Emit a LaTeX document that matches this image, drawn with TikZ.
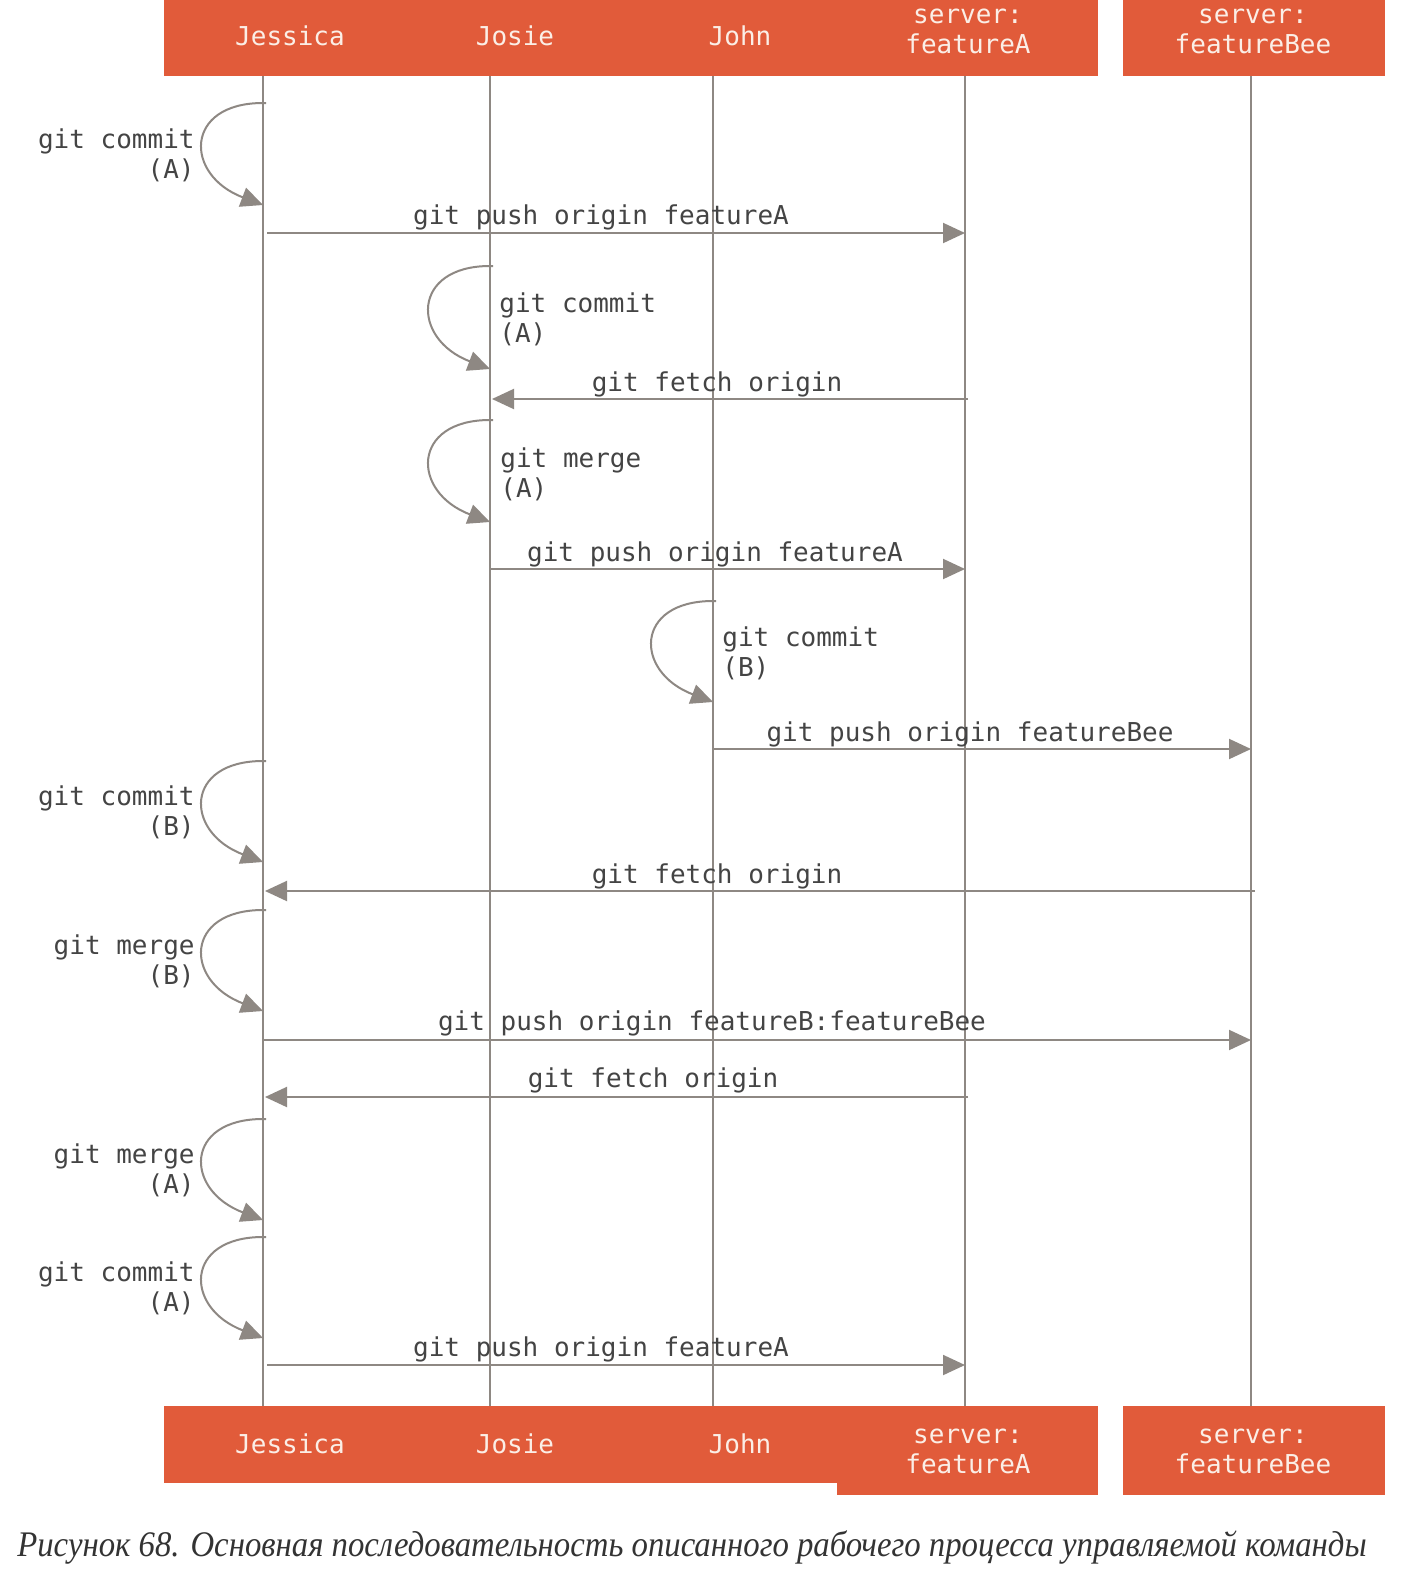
\documentclass[tikz,border=0pt]{standalone}
\usepackage{fontspec}
\setmonofont{DejaVu Sans Mono}
\newfontfamily\capfont[FakeStretch=0.91]{Liberation Serif}
\usetikzlibrary{arrows.meta}
\definecolor{hdr}{HTML}{E15B3A}
\definecolor{ln}{HTML}{8E8883}
\definecolor{txt}{HTML}{444444}
\definecolor{htxt}{HTML}{FBEEE6}
\definecolor{captxt}{HTML}{333333}
\begin{document}
\begin{tikzpicture}[x=0.5pt,y=-0.5pt,
  lifeline/.style={draw=ln,line width=1pt},
  msg/.style={draw=ln,line width=1pt,-{Triangle[length=11pt,width=10pt]}},
  selfloop/.style={draw=ln,line width=1pt,-{Triangle[length=11pt,width=10pt]}},
  lbl/.style={inner sep=0pt,text=txt,font=\ttfamily\fontsize{13}{15}\selectfont},
  hlbl/.style={inner sep=0pt,text=htxt,font=\ttfamily\fontsize{13}{15}\selectfont,align=center}]
\useasboundingbox[fill=white] (0,0) rectangle (1408,1580);
% header boxes
\fill[hdr] (164,0) rectangle (1098,76);
\fill[hdr] (1123,0) rectangle (1385,76);
\fill[hdr] (164,1406) rectangle (1098,1483);
\fill[hdr] (837,1406) rectangle (1098,1495);
\fill[hdr] (1123,1406) rectangle (1385,1495);
% header texts
\node[hlbl,anchor=base] (hJ)  at (290,45) {Jessica};
\node[hlbl,anchor=base] (hJo) at (515,45) {Josie};
\node[hlbl,anchor=base] (hJn) at (740,45) {John};
\node[hlbl,anchor=base] (hFA) at (968,53) {server:\\[0pt]featureA};
\node[hlbl,anchor=base] (hFB) at (1253,53) {server:\\[0pt]featureBee};
\node[hlbl,anchor=base] (fJ)  at (290,1453) {Jessica};
\node[hlbl,anchor=base] (fJo) at (515,1453) {Josie};
\node[hlbl,anchor=base] (fJn) at (740,1453) {John};
\node[hlbl,anchor=base] (fFA) at (968,1473) {server:\\[0pt]featureA};
\node[hlbl,anchor=base] (fFB) at (1253,1473) {server:\\[0pt]featureBee};
% lifeline ends
\coordinate (tJ) at (263,76);  \coordinate (bJ) at (263,1406);
\coordinate (tJo) at (490,76); \coordinate (bJo) at (490,1406);
\coordinate (tJn) at (713,76); \coordinate (bJn) at (713,1406);
\coordinate (tFA) at (965,76); \coordinate (bFA) at (965,1406);
\coordinate (tFB) at (1251,76); \coordinate (bFB) at (1251,1406);
\foreach \n in {J,Jo,Jn,FA,FB} {\draw[lifeline] (t\n) -- (b\n);}
% 1 loop Jessica
\coordinate (l1s) at (266,103); \coordinate (l1e) at (263,205);
\draw[selfloop] (l1s) -- (263,103) .. controls +(-79,0) and +(-79,-30) .. (l1e);
\node[lbl,anchor=base east,align=right] (t1) at (195,178) {git commit\\(A)};
% 2 push
\coordinate (m2s) at (267,233); \coordinate (m2e) at (965,233);
\draw[msg] (m2s) -- (m2e);
\node[lbl,anchor=base] (t2) at (601,224) {git push origin featureA};
% 3 loop Josie
\coordinate (l3s) at (493,266); \coordinate (l3e) at (490,369);
\draw[selfloop] (l3s) -- (490,266) .. controls +(-79,0) and +(-79,-30) .. (l3e);
\node[lbl,anchor=base west,align=left] (t3) at (499,342) {git commit\\(A)};
% 4 fetch
\coordinate (m4s) at (968,399); \coordinate (m4e) at (492,399);
\draw[msg] (m4s) -- (m4e);
\node[lbl,anchor=base] (t4) at (717,391) {git fetch origin};
% 5 loop Josie merge
\coordinate (l5s) at (493,420); \coordinate (l5e) at (490,522);
\draw[selfloop] (l5s) -- (490,420) .. controls +(-79,0) and +(-79,-30) .. (l5e);
\node[lbl,anchor=base west,align=left] (t5) at (500,497) {git merge\\(A)};
% 6 push
\coordinate (m6s) at (490,569); \coordinate (m6e) at (965,569);
\draw[msg] (m6s) -- (m6e);
\node[lbl,anchor=base] (t6) at (715,561) {git push origin featureA};
% 7 loop John
\coordinate (l7s) at (716,601); \coordinate (l7e) at (713,702);
\draw[selfloop] (l7s) -- (713,601) .. controls +(-79,0) and +(-79,-30) .. (l7e);
\node[lbl,anchor=base west,align=left] (t7) at (722,676) {git commit\\(B)};
% 8 push featureBee
\coordinate (m8s) at (713,749); \coordinate (m8e) at (1251,749);
\draw[msg] (m8s) -- (m8e);
\node[lbl,anchor=base] (t8) at (970,741) {git push origin featureBee};
% 9 loop Jessica
\coordinate (l9s) at (266,761); \coordinate (l9e) at (263,862);
\draw[selfloop] (l9s) -- (263,761) .. controls +(-79,0) and +(-79,-30) .. (l9e);
\node[lbl,anchor=base east,align=right] (t9) at (195,835) {git commit\\(B)};
% 10 fetch
\coordinate (m10s) at (1255,891); \coordinate (m10e) at (265,891);
\draw[msg] (m10s) -- (m10e);
\node[lbl,anchor=base] (t10) at (717,883) {git fetch origin};
% 11 loop merge B
\coordinate (l11s) at (266,910); \coordinate (l11e) at (263,1011);
\draw[selfloop] (l11s) -- (263,910) .. controls +(-79,0) and +(-79,-30) .. (l11e);
\node[lbl,anchor=base east,align=right] (t11) at (195,984) {git merge\\(B)};
% 12 push B:Bee
\coordinate (m12s) at (263,1040); \coordinate (m12e) at (1251,1040);
\draw[msg] (m12s) -- (m12e);
\node[lbl,anchor=base] (t12) at (712,1030) {git push origin featureB:featureBee};
% 13 fetch
\coordinate (m13s) at (968,1097); \coordinate (m13e) at (265,1097);
\draw[msg] (m13s) -- (m13e);
\node[lbl,anchor=base] (t13) at (653,1087) {git fetch origin};
% 14 loop merge A
\coordinate (l14s) at (266,1119); \coordinate (l14e) at (263,1220);
\draw[selfloop] (l14s) -- (263,1119) .. controls +(-79,0) and +(-79,-30) .. (l14e);
\node[lbl,anchor=base east,align=right] (t14) at (195,1193) {git merge\\(A)};
% 15 loop commit A
\coordinate (l15s) at (266,1237); \coordinate (l15e) at (263,1338);
\draw[selfloop] (l15s) -- (263,1237) .. controls +(-79,0) and +(-79,-30) .. (l15e);
\node[lbl,anchor=base east,align=right] (t15) at (195,1311) {git commit\\(A)};
% 16 push
\coordinate (m16s) at (267,1365); \coordinate (m16e) at (965,1365);
\draw[msg] (m16s) -- (m16e);
\node[lbl,anchor=base] (t16) at (601,1356) {git push origin featureA};
% caption
\node[inner sep=0pt,anchor=base,text=captxt,font=\capfont\itshape\fontsize{18}{20}\selectfont] (cap) at (692,1556) {Рисунок 68. Основная последовательность описанного рабочего процесса управляемой команды};
\end{tikzpicture}
\end{document}
